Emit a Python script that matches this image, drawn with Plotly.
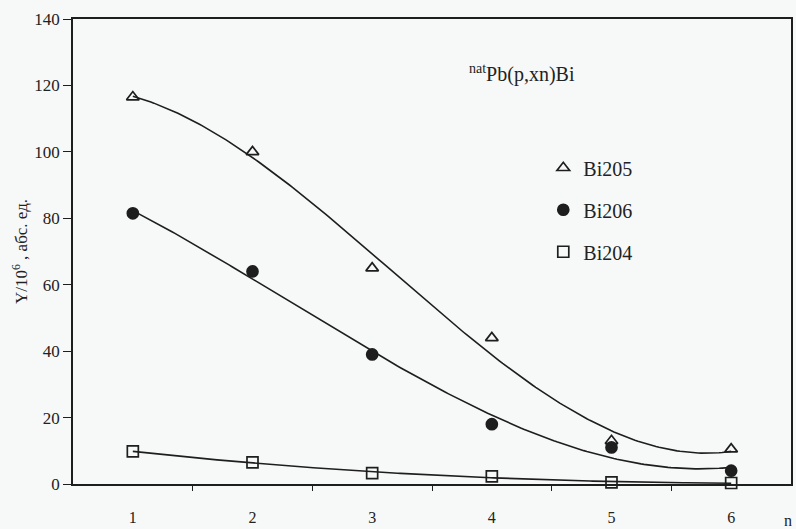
import numpy as np
import plotly.graph_objects as go

x = [1, 2, 3, 4, 5, 6]
bi205 = [116.5, 100, 65, 44, 13, 10.5]
bi206 = [81.5, 64, 39, 18, 11, 4]
bi204 = [9.8, 6.5, 3.3, 2.3, 0.5, 0.3]
y_ticks = [0, 20, 40, 60, 80, 100, 120, 140]

LINE = "#1e1e1e"
FONT = "Liberation Serif, Times New Roman, serif"
BG = "#f7f8f8"

fig = go.Figure()

xf = np.linspace(1, 6, 200)
series = [("Bi205", bi205, "triangle-up-open", 11),
          ("Bi206", bi206, "circle", 11),
          ("Bi204", bi204, "square-open", 11)]

for name, ys, sym, sz in series:
    c = np.polyfit(x, ys, 3)
    fig.add_trace(go.Scatter(x=xf, y=np.polyval(c, xf), mode="lines",
                             line=dict(color=LINE, width=1.6),
                             showlegend=False, hoverinfo="skip"))

for name, ys, sym, sz in series:
    fig.add_trace(go.Scatter(x=x, y=ys, mode="markers", name=name,
                             legendgroup=name, cliponaxis=False,
                             marker=dict(symbol=sym, size=sz, color=LINE,
                                         line=dict(color=LINE, width=1.7))))

fig.update_layout(
    width=796, height=529,
    margin=dict(l=73, r=3, t=19, b=40),
    paper_bgcolor=BG, plot_bgcolor=BG,
    font=dict(family=FONT, size=16, color="#222"),
    legend=dict(x=0.655, y=0.722, xanchor="left", yanchor="top",
                bgcolor="rgba(0,0,0,0)", tracegroupgap=13,
                font=dict(size=20, family=FONT)),
    xaxis=dict(range=[0.5, 6.5], tickvals=x, ticktext=[str(v) for v in x],
               ticks="", showgrid=False, zeroline=False,
               showline=True, linecolor=LINE, linewidth=1.6, mirror=True,
               ticklabelstandoff=18, tickfont=dict(size=16, family=FONT),
               minor=dict(tickvals=[1.5, 2.5, 3.5, 4.5, 5.5], ticks="outside",
                          ticklen=5, tickcolor=LINE, tickwidth=1.4, showgrid=False)),
    yaxis=dict(range=[0, 140], tickvals=y_ticks, ticks="outside", ticklen=8,
               tickcolor=LINE, tickwidth=1.4, showgrid=False, zeroline=False,
               showline=True, linecolor=LINE, linewidth=1.6, mirror=True,
               tickfont=dict(size=17, family=FONT),
               title=dict(text="Y/10<sup>6</sup> , абс. ед.", standoff=2,
                          font=dict(size=17, family=FONT))),
)

fig.add_annotation(xref="paper", yref="paper", x=(468 - 73) / 720, y=(489 - 74) / 470,
                   xanchor="left", yanchor="middle", showarrow=False,
                   text="<sup>nat</sup>Pb(p,xn)Bi", font=dict(size=20, family=FONT))
fig.add_annotation(xref="paper", yref="paper", x=1.004, y=-0.055,
                   xanchor="right", yanchor="top", showarrow=False,
                   text="n", font=dict(size=16, family=FONT))

fig.write_html("out.html")
